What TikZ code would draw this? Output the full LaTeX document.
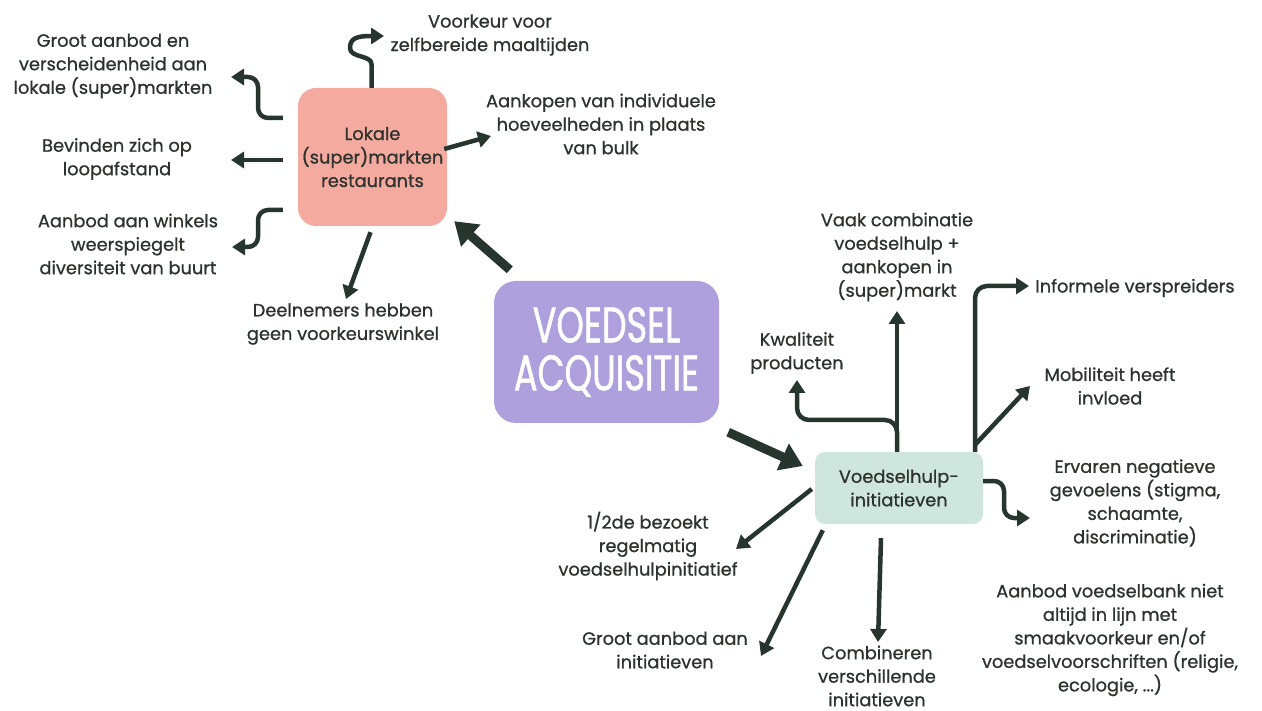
\documentclass[tikz,border=0pt]{standalone}
\usepackage{fontspec}
\setmainfont[FakeBold=0.8]{Poppins}
\newfontfamily\titlefont[FakeStretch=0.7,FakeBold=1]{Poppins}
\usetikzlibrary{arrows.meta,calc}
\definecolor{ink}{HTML}{27352F}
\definecolor{txt}{HTML}{2C322E}
\definecolor{salmon}{HTML}{F5AAA0}
\definecolor{lav}{HTML}{AE9FDD}
\definecolor{mint}{HTML}{CFE6DF}
\begin{document}
\begin{tikzpicture}[x=1pt,y=-1pt,
  lbl/.style={align=center, text=txt, font=\fontsize{17.8}{23.5}\selectfont, inner sep=0pt},
  box/.style={align=center, text=txt, font=\fontsize{17.8}{23.5}\selectfont, inner sep=0pt},
  conn/.style={draw=ink, line width=4.5pt, line join=round, rounded corners=10pt,
    -{Triangle[length=13pt,width=16pt]}},
  bigconn/.style={draw=ink, line width=9pt, -{Triangle[length=22pt,width=28pt]}},
]
\useasboundingbox (0,0) rectangle (1262,711);
\fill[white] (0,0) rectangle (1262,711);

% central boxes
\node[box, fill=salmon, rounded corners=18pt, minimum width=149pt, minimum height=138pt]
  (lok) at (372.5,157) {Lokale\\(super)markten\\restaurants};
\node[fill=lav, rounded corners=22pt, minimum width=225pt, minimum height=142pt,
  text=white, align=center, font=\titlefont\fontsize{50}{48}\selectfont, inner sep=0pt]
  (acq) at (606.5,352) {VOEDSEL\\ACQUISITIE};
\node[box, fill=mint, rounded corners=10pt, minimum width=168pt, minimum height=72pt]
  (hulp) at (899,488) {Voedselhulp-\\initiatieven};

% labels around the local shops box
\node[lbl] (voork) at (490,35) {Voorkeur voor\\zelfbereide maaltijden};
\node[lbl] (groot) at (113,66) {Groot aanbod en\\verscheidenheid aan\\lokale (super)markten};
\node[lbl] (bevind) at (117,159) {Bevinden zich op\\loopafstand};
\node[lbl] (winkels) at (128,244) {Aanbod aan winkels\\weerspiegelt\\diversiteit van buurt};
\node[lbl] (deeln) at (343,324) {Deelnemers hebben\\geen voorkeurswinkel};
\node[lbl] (aankoop) at (601,124) {Aankopen van individuele\\hoeveelheden in plaats\\van bulk};

% labels around the food aid box
\node[lbl] (vaak) at (897,257) {Vaak combinatie\\voedselhulp +\\aankopen in\\(super)markt};
\node[lbl] (kwal) at (797,353) {Kwaliteit\\producten};
\node[lbl] (inform) at (1135,288) {Informele verspreiders};
\node[lbl] (mobil) at (1110,386) {Mobiliteit heeft\\invloed};
\node[lbl] (ervaren) at (1135,503) {Ervaren negatieve\\gevoelens (stigma,\\schaamte,\\discriminatie)};
\node[lbl] (bank) at (1110,640) {Aanbod voedselbank niet\\altijd in lijn met\\smaakvoorkeur en/of\\voedselvoorschriften (religie,\\ecologie, ...)};
\node[lbl] (helft) at (648,546) {1/2de bezoekt\\regelmatig\\voedselhulpinitiatief};
\node[lbl] (grinit) at (665,650) {Groot aanbod aan\\initiatieven};
\node[lbl] (combi) at (877,676) {Combineren\\verschillende\\initiatieven};

% arrow ends
\coordinate (tVoork) at (384,36);
\coordinate (tGroot) at (231,77);
\coordinate (tBevind) at (231,160);
\coordinate (tWinkels) at (232,247);
\coordinate (tDeeln) at (346,299);
\coordinate (tAankoop) at (491,136);
\coordinate (tVaak) at (897,311);
\coordinate (tKwal) at (797,380);
\coordinate (tInform) at (1029,286);
\coordinate (tMobil) at (1030,386);
\coordinate (tErvaren) at (1030,518);
\coordinate (tHelft) at (736,549);
\coordinate (tGrinit) at (761,656);
\coordinate (tCombi) at (878,642);

% connectors from the local shops box
\draw[conn,rounded corners=0pt] ($(lok.north)+(-1,0)$) -- (371.5,64)
  .. controls (371.5,55) and (350,58) .. (350,48)
  .. controls (350,38) and (357,36) .. (tVoork);
\draw[conn] ($(lok.west)+(-15,-39)$) -- (258,118) -- (258,77) -- (tGroot);
\draw[conn,rounded corners=0pt] ($(lok.west)+(-15,3)$) -- (tBevind);
\draw[conn] ($(lok.west)+(-15,53)$) -- (258,210) -- (258,247) -- (tWinkels);
\draw[conn,rounded corners=0pt] ($(lok.south)+(-2,6)$) -- (tDeeln);
\draw[conn,rounded corners=0pt] ($(lok.east)+(-3,-8)$) -- (tAankoop);

% heavy connectors from the central box
\draw[bigconn] ($(acq.north west)+(16,-11)$) -- ($(lok.south east)+(7,-5)$);
\draw[bigconn] ($(acq.south east)+(9,9)$) -- ($(hulp.west)+(-12,-22)$);

% connectors from the food aid box
\draw[conn,rounded corners=0pt] ($(hulp.north)+(-2,0)$) -- (tVaak);
\draw[conn,rounded corners=12pt] ($(hulp.north)+(-2,0)$) -- (897,420) -- (797,420) -- (tKwal);
\draw[conn,rounded corners=12pt] ($(hulp.north)+(76,0)$) -- (975,286) -- (tInform);
\draw[conn,rounded corners=0pt] ($(hulp.north)+(76,-7)$) -- (tMobil);
\draw[conn,rounded corners=10pt] ($(hulp.east)+(0,-7)$) -- (1004,481) -- (1004,518) -- (tErvaren);
\draw[conn,rounded corners=0pt] ($(hulp.west)+(-3,1)$) -- (tHelft);
\draw[conn,rounded corners=0pt] ($(hulp.south west)+(8,6)$) -- (tGrinit);
\draw[conn,rounded corners=0pt] ($(hulp.south)+(-18,14)$) -- (tCombi);
\end{tikzpicture}
\end{document}
